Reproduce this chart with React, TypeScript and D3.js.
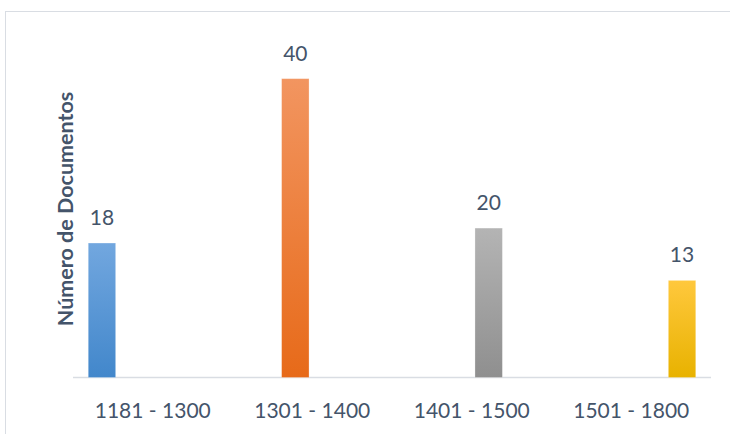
import React from "react";
import * as d3 from "d3";

const categories = ["1181 - 1300", "1301 - 1400", "1401 - 1500", "1501 - 1800"];
const values = [18, 40, 20, 13];
const yAxisTitle = "Número de Documentos";
const colorsTop = ["#72a7df", "#f29560", "#b4b4b4", "#ffc83d"];
const colorsBottom = ["#4287cb", "#e76a19", "#8f8f8f", "#e8b200"];

const W = 730;
const H = 434;
const x0 = 73;
const x1 = 711;
const baseY = 377.5;

export default function App() {
  const outer = d3.scaleBand<string>().domain(categories).range([x0, x1]).padding(0);
  const inner = d3
    .scaleBand<number>()
    .domain(d3.range(categories.length))
    .range([0, outer.bandwidth()])
    .paddingInner(0.19)
    .paddingOuter(0.45);
  const y = d3.scaleLinear().domain([0, 45]).range([baseY, 41.3]);
  const font = "Lato, 'Open Sans', sans-serif";
  const textColor = "#44546a";

  return (
    <svg
      width={W}
      height={H}
      style={{ position: "absolute", left: 0, top: 0, background: "#fff" }}
    >
      <defs>
        {values.map((_, i) => (
          <linearGradient key={i} id={`g${i}`} x1="0" y1="0" x2="0" y2="1">
            <stop offset="0%" stopColor={colorsTop[i]} />
            <stop offset="100%" stopColor={colorsBottom[i]} />
          </linearGradient>
        ))}
      </defs>
      <rect x={5.5} y={11.5} width={W} height={H} fill="none" stroke="#d9dde3" strokeWidth={1} />
      <line x1={x0} x2={x1} y1={baseY} y2={baseY} stroke="#d9dde3" strokeWidth={1.5} />
      {values.map((v, i) => {
        const bx = (outer(categories[i]) as number) + (inner(i) as number);
        const bw = inner.bandwidth();
        return (
          <g key={i}>
            <rect
              x={bx}
              y={y(v)}
              width={bw}
              height={baseY - y(v)}
              fill={`url(#g${i})`}
              stroke="#ffffff"
              strokeOpacity={0.35}
              strokeWidth={0.8}
            />
            <text
              x={bx + bw / 2}
              y={y(v) - 18}
              textAnchor="middle"
              fontFamily={font}
              fontSize={21}
              fill={textColor}
            >
              {v}
            </text>
          </g>
        );
      })}
      {categories.map((c) => (
        <text
          key={c}
          x={(outer(c) as number) + outer.bandwidth() / 2}
          y={418}
          textAnchor="middle"
          fontFamily={font}
          fontSize={21}
          fill={textColor}
        >
          {c}
        </text>
      ))}
      <text
        transform={`translate(73, 209) rotate(-90)`}
        textAnchor="middle"
        fontFamily={font}
        fontWeight="bold"
        fontSize={21.5}
        fill={textColor}
      >
        {yAxisTitle}
      </text>
    </svg>
  );
}
